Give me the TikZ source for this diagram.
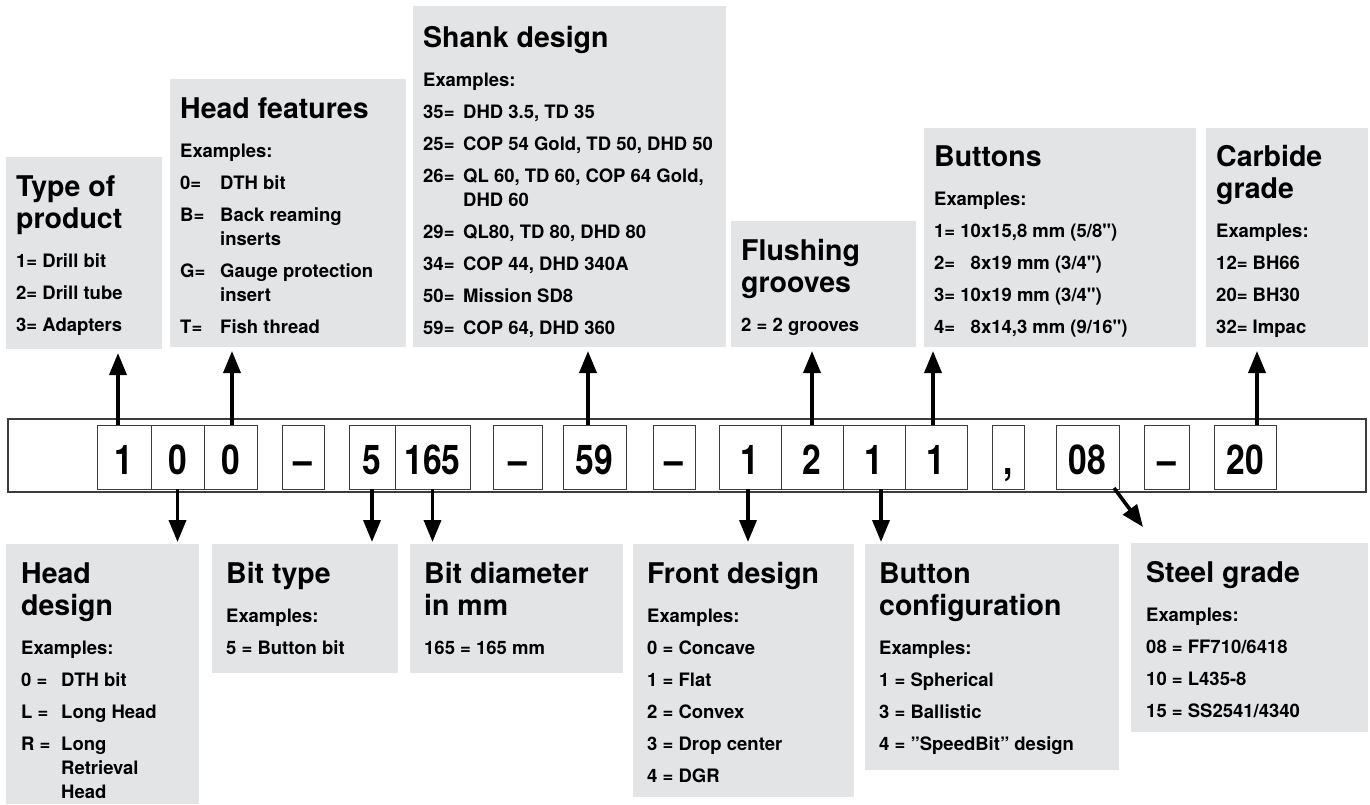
\documentclass[tikz,border=0pt]{standalone}
\usepackage{fontspec}
\setmainfont{TeX Gyre Heros}
\newfontfamily\codefont[FakeStretch=0.82]{TeX Gyre Heros}
\usetikzlibrary{positioning,arrows.meta,calc}
\definecolor{boxgray}{RGB}{227,228,230}
\definecolor{barline}{RGB}{60,60,60}
\newcommand\ttl[1]{\spaceskip=0pt\xspaceskip=0pt\relax
  \fontsize{28.5}{32}\selectfont #1\par\fontsize{18.5}{39}\selectfont}
\newcommand\itm{\par\fontsize{18.5}{32}\selectfont}
\newcommand\kk[1]{\makebox[40pt][l]{#1}}
\newcommand\cont{\\[-8pt]\hspace*{40pt}}
\newcommand\inch{{\addfontfeatures{Ligatures=TeXOff}"}}

\begin{document}
\begin{tikzpicture}[x=1pt,y=-1pt]
\tikzset{
  infobox/.style={fill=boxgray, anchor=north west, inner sep=0pt, outer sep=0pt},
  infotext/.style={anchor=base west, inner sep=0pt, align=left, font=\bfseries},
  cell/.style={draw=barline, line width=1pt, minimum height=64pt, inner sep=0pt, outer sep=0pt,
    text height=34pt, text depth=0pt, font=\codefont\bfseries\fontsize{41}{45}\selectfont},
  pointer/.style={-{Triangle[width=17pt,length=22pt]}, line width=3.6pt}
}
\useasboundingbox (0,0) rectangle (1370,804);

\node[infobox, minimum width=156, minimum height=192] (tp) at (6,157) {};
\node[infobox, minimum width=236, minimum height=268] (hf) at (170,79) {};
\node[infobox, minimum width=313, minimum height=341] (sd) at (413,6) {};
\node[infobox, minimum width=185, minimum height=126] (fg) at (731,221) {};
\node[infobox, minimum width=272, minimum height=219] (bu) at (924,128) {};
\node[infobox, minimum width=162, minimum height=219] (cg) at (1206,128) {};
\node[infobox, minimum width=193, minimum height=260] (hd) at (6,544) {};
\node[infobox, minimum width=186, minimum height=129] (bt) at (212,544) {};
\node[infobox, minimum width=213, minimum height=129] (bdm) at (410,544) {};
\node[infobox, minimum width=221, minimum height=253] (fd) at (633,544) {};
\node[infobox, minimum width=254, minimum height=226] (bc) at (865,544) {};
\node[infobox, minimum width=237, minimum height=189] (sg) at (1131,543) {};

\node[infotext, text width=140] (tp-t) at ([shift={(10,39)}]tp.north west)
  {\ttl{Type of\\product}1= Drill bit\itm 2= Drill tube\itm 3= Adapters\par};
\node[infotext, text width=220] (hf-t) at ([shift={(10,39)}]hf.north west)
  {\ttl{Head features}Examples:\itm \kk{0=}DTH bit\itm \kk{B=}Back reaming\cont inserts\itm
   \kk{G=}Gauge protection\cont insert\itm \kk{T=}Fish thread\par};
\node[infotext, text width=300] (sd-t) at ([shift={(10,41)}]sd.north west)
  {\ttl{Shank design}Examples:\itm \kk{35=}DHD 3.5, TD 35\itm \kk{25=}COP 54 Gold, TD 50, DHD 50\itm
   \kk{26=}QL 60, TD 60, COP 64 Gold,\cont DHD 60\itm \kk{29=}QL80, TD 80, DHD 80\itm
   \kk{34=}COP 44, DHD 340A\itm \kk{50=}Mission SD8\itm \kk{59=}COP 64, DHD 360\par};
\node[infotext, text width=170] (fg-t) at ([shift={(10,39)}]fg.north west)
  {\ttl{Flushing\\grooves}2 = 2 grooves\par};
\node[infotext, text width=255] (bu-t) at ([shift={(10,38)}]bu.north west)
  {\ttl{Buttons}Examples:\itm 1= 10x15,8 mm (5/8\inch)\itm 2= \phantom{1}8x19 mm (3/4\inch)\itm
   3= 10x19 mm (3/4\inch)\itm 4= \phantom{1}8x14,3 mm (9/16\inch)\par};
\node[infotext, text width=148] (cg-t) at ([shift={(10,38)}]cg.north west)
  {\ttl{Carbide\\grade}Examples:\itm 12= BH66\itm 20= BH30\itm 32= Impac\par};
\node[infotext, text width=175] (hd-t) at ([shift={(15,39)}]hd.north west)
  {\ttl{Head\\design}Examples:\itm \kk{0 =}DTH bit\itm \kk{L =}Long Head\itm \kk{R =}Long\cont Retrieval\cont Head\par};
\node[infotext, text width=170] (bt-t) at ([shift={(14,39)}]bt.north west)
  {\ttl{Bit type}Examples:\itm 5 = Button bit\par};
\node[infotext, text width=196] (bdm-t) at ([shift={(14,39)}]bdm.north west)
  {\ttl{Bit diameter\\in mm}165 = 165 mm\par};
\node[infotext, text width=205] (fd-t) at ([shift={(14,39)}]fd.north west)
  {\ttl{Front design}Examples:\itm 0 = Concave\itm 1 = Flat\itm 2 = Convex\itm 3 = Drop center\itm 4 = DGR\par};
\node[infotext, text width=238] (bc-t) at ([shift={(14,39)}]bc.north west)
  {\ttl{Button\\configuration}Examples:\itm 1 = Spherical\itm 3 = Ballistic\itm 4 = ”SpeedBit” design\par};
\node[infotext, text width=220] (sg-t) at ([shift={(15,39)}]sg.north west)
  {\ttl{Steel grade}Examples:\itm 08 = FF710/6418\itm 10 = L435-8\itm 15 = SS2541/4340\par};

\node[draw=barline, line width=1.2pt, minimum width=1358, minimum height=73, inner sep=0pt] (codebar) at (687,455.5) {};
\node[cell, minimum width=54] (c1) at (124,457) {1};
\node[cell, minimum width=53, right=0pt of c1] (c2) {0};
\node[cell, minimum width=53, right=0pt of c2] (c3) {0};
\node[cell, minimum width=42] (d1) at (303,457) {–};
\node[cell, minimum width=46] (c4) at (372,457) {5};
\node[cell, minimum width=75, right=0pt of c4] (c5) {165};
\node[cell, minimum width=49] (d2) at (517.5,457) {–};
\node[cell, minimum width=63] (c6) at (594.5,457) {59};
\node[cell, minimum width=42] (d3) at (674,457) {–};
\node[cell, minimum width=62] (c7) at (750,457) {1};
\node[cell, minimum width=62, right=0pt of c7] (c8) {2};
\node[cell, minimum width=62, right=0pt of c8] (c9) {1};
\node[cell, minimum width=62, right=0pt of c9] (c10) {1};
\node[cell, minimum width=32] (cm) at (1008,457) {,};
\node[cell, minimum width=63] (c11) at (1087.5,457) {08};
\node[cell, minimum width=45] (d4) at (1166.5,457) {–};
\node[cell, minimum width=62] (c12) at (1245,457) {20};

\draw[pointer, shorten >=4pt] ($(c1.north)+(-6,0)$) -- ($(c1.north |- tp.south)+(-6,0)$);
\draw[pointer, shorten >=4pt] ($(c3.north)+(1.5,0)$) -- ($(c3.north |- hf.south)+(1.5,0)$);
\draw[pointer, shorten >=4pt] ($(c6.north)+(-6.5,0)$) -- ($(c6.north |- sd.south)+(-6.5,0)$);
\draw[pointer, shorten >=4pt] (c8.north) -- (c8.north |- fg.south);
\draw[pointer, shorten >=4pt] ($(c10.north)+(-3,0)$) -- ($(c10.north |- bu.south)+(-3,0)$);
\draw[pointer, shorten >=4pt] ($(c12.north)+(12,0)$) -- ($(c12.north |- cg.south)+(12,0)$);

\draw[pointer, shorten >=2pt] (c2.south) -- (c2.south |- hd.north);
\draw[pointer, shorten >=2pt] (c4.south) -- (c4.south |- bt.north);
\draw[pointer, shorten >=2pt] (c5.south) -- (c5.south |- bdm.north);
\draw[pointer, shorten >=2pt] ($(c7.south)+(-2,0)$) -- ($(c7.south |- fd.north)+(-2,0)$);
\draw[pointer, shorten >=2pt] ($(c9.south)+(7,0)$) -- ($(c9.south |- bc.north)+(7,0)$);
\coordinate (sgtip) at (1143,527);
\draw[pointer] ($(c11.south east)+(-5,-1)$) -- (sgtip);
\end{tikzpicture}
\end{document}
